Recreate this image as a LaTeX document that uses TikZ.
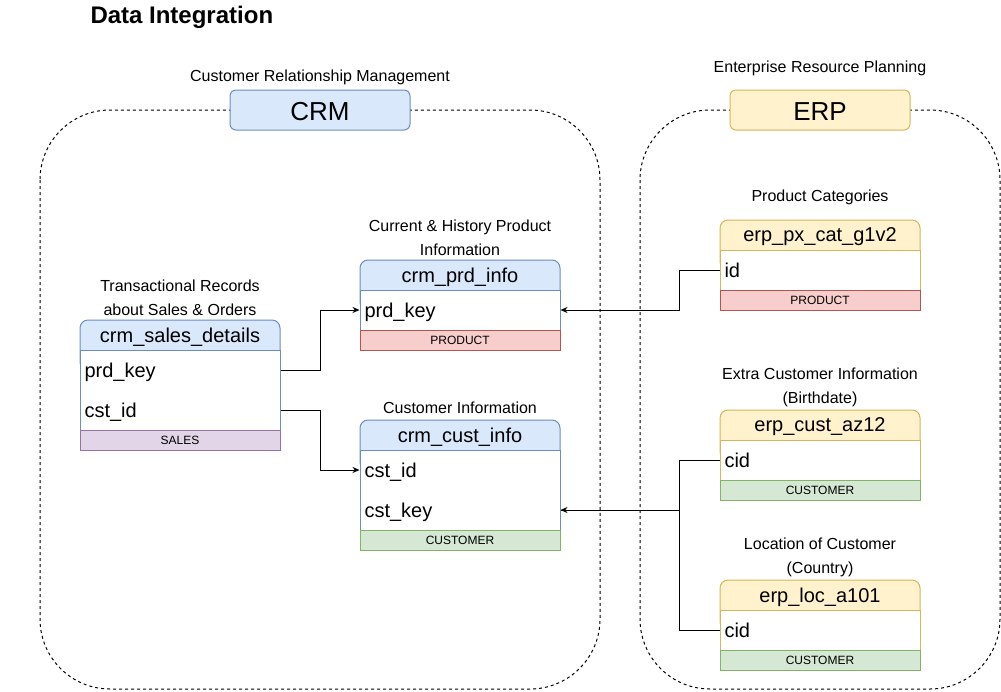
\documentclass[tikz,border=0pt]{standalone}
\usepackage{fontspec}
\setmainfont{Liberation Sans}
\usetikzlibrary{arrows.meta}
\definecolor{bF}{HTML}{DAE8FC}\definecolor{bD}{HTML}{6C8EBF}
\definecolor{yF}{HTML}{FFF2CC}\definecolor{yD}{HTML}{D6B656}
\definecolor{rF}{HTML}{F8CECC}\definecolor{rD}{HTML}{B85450}
\definecolor{gF}{HTML}{D5E8D4}\definecolor{gD}{HTML}{82B366}
\definecolor{pF}{HTML}{E1D5E7}\definecolor{pD}{HTML}{9673A6}
\newcommand{\dbtbl}[6]{% name, L, T, nrows, head colour stem, title
  \pgfmathsetmacro\tB{#3+30+40*#4}
  \filldraw[draw=#5D, fill=#5F, rounded corners=8] (#2,#3) rectangle (#2+200,#3+50);
  \filldraw[draw=#5D, fill=white] (#2,#3+30) rectangle (#2+200,\tB);
  \node[headtxt] (#1) at (#2+100,#3+15) {#6};
}
\newcommand{\dbrow}[4]{% name, L, y, text
  \node[rowbox] (#1) at (#2+100,#3) {};
  \node[rowtxt] (#1-t) at (#2+4,#3) {#4};
}
\begin{document}
\begin{tikzpicture}[x=1pt,y=-1pt,line width=1pt,
  lbl/.style={font=\fontsize{16}{24}\selectfont, align=center, inner sep=0, yshift=-1.5pt},
  headtxt/.style={font=\fontsize{20}{24}\selectfont, inner sep=0, yshift=-2pt},
  rowbox/.style={minimum width=200pt, minimum height=40pt, inner sep=0},
  rowtxt/.style={font=\fontsize{20}{24}\selectfont, anchor=west, inner sep=0, text height=14.6pt, text depth=4.2pt, yshift=-2pt},
  foot/.style={font=\fontsize{12}{14}\selectfont, minimum width=200pt, minimum height=20pt, inner sep=0},
  sysbox/.style={rounded corners=6, minimum width=180pt, minimum height=40pt, inner sep=0},
  systxt/.style={font=\fontsize{26}{30}\selectfont, inner sep=0, yshift=-2pt},
  container/.style={dash pattern=on 3pt off 3pt, rounded corners=70},
  arr/.style={-{Stealth[length=7pt,width=6pt]}}]
\useasboundingbox (0,0) rectangle (1001,691);

\node[font=\bfseries\fontsize{24}{28}\selectfont, anchor=west, inner sep=0, yshift=-2pt] (title) at (90,15) {Data Integration};

% containers
\draw[container] (40,110) rectangle (600,689);
\draw[container] (640,110) rectangle (1000,689);
\node[sysbox, draw=bD, fill=bF] (crm) at (320,110) {};
\node[systxt] (crm-t) at (320,110) {CRM};
\node[sysbox, draw=yD, fill=yF] (erp) at (820,110) {};
\node[systxt] (erp-t) at (820,110) {ERP};
\node[lbl] (crmlbl) at (320,76) {Customer Relationship Management};
\node[lbl] (erplbl) at (820,67) {Enterprise Resource Planning};

% crm_sales_details
\node[lbl] (sdlbl) at (180,296) {Transactional Records\\about Sales \& Orders};
\dbtbl{sd}{80}{320}{2}{b}{crm\_sales\_details}
\dbrow{sd-prd}{80}{370}{prd\_key}
\dbrow{sd-cst}{80}{410}{cst\_id}
\node[foot, draw=pD, fill=pF] (sd-foot) at (180,440) {SALES};

% crm_prd_info
\node[lbl] (pilbl) at (460,236) {Current \& History Product\\Information};
\dbtbl{pi}{360}{260}{1}{b}{crm\_prd\_info}
\dbrow{pi-prd}{360}{310}{prd\_key}
\node[foot, draw=rD, fill=rF] (pi-foot) at (460,340) {PRODUCT};

% crm_cust_info
\node[lbl] (cilbl) at (460,406) {Customer Information};
\dbtbl{ci}{360}{420}{2}{b}{crm\_cust\_info}
\dbrow{ci-id}{360}{470}{cst\_id}
\dbrow{ci-key}{360}{510}{cst\_key}
\node[foot, draw=gD, fill=gF] (ci-foot) at (460,540) {CUSTOMER};

% erp_px_cat_g1v2
\node[lbl] (pxlbl) at (820,196) {Product Categories};
\dbtbl{px}{720}{220}{1}{y}{erp\_px\_cat\_g1v2}
\dbrow{px-id}{720}{270}{id}
\node[foot, draw=rD, fill=rF] (px-foot) at (820,300) {PRODUCT};

% erp_cust_az12
\node[lbl] (azlbl) at (820,386) {Extra Customer Information\\(Birthdate)};
\dbtbl{az}{720}{410}{1}{y}{erp\_cust\_az12}
\dbrow{az-cid}{720}{460}{cid}
\node[foot, draw=gD, fill=gF] (az-foot) at (820,490) {CUSTOMER};

% erp_loc_a101
\node[lbl] (loclbl) at (820,556) {Location of Customer\\(Country)};
\dbtbl{loc}{720}{580}{1}{y}{erp\_loc\_a101}
\dbrow{loc-cid}{720}{630}{cid}
\node[foot, draw=gD, fill=gF] (loc-foot) at (820,660) {CUSTOMER};

% connectors
\draw[arr] (sd-prd.east) -- ++(40,0) |- (pi-prd.west);
\draw[arr] (sd-cst.east) -- ++(40,0) |- (ci-id.west);
\draw[arr] (px-id.west) -- ++(-40,0) |- (pi-prd.east);
\draw[arr] (az-cid.west) -- ++(-40,0) |- (ci-key.east);
\draw (loc-cid.west) -- ++(-40,0) |- (ci-key.east);
\end{tikzpicture}
\end{document}
